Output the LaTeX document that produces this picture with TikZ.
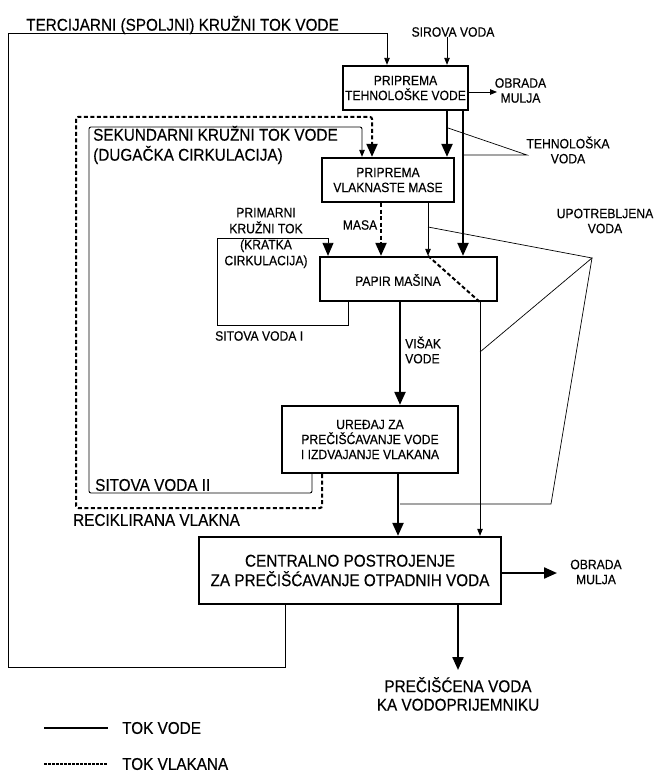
\documentclass[tikz,border=0pt]{standalone}
\usepackage{fontspec}
\setmainfont{Liberation Sans}[FakeStretch=0.9,FakeBold=0.3]
\usetikzlibrary{arrows.meta}
\begin{document}
\begin{tikzpicture}[x=1pt,y=-1pt,
  box/.style={draw, line width=2.3pt, inner sep=0pt, align=center, font=\fontsize{13.5}{15}\selectfont},
  lbl/.style={inner sep=0pt, align=center, font=\fontsize{13.5}{15}\selectfont},
  biglbl/.style={inner sep=0pt, align=center, font=\fontsize{17}{19.5}\selectfont},
  thinline/.style={line width=0.9pt},
  thickline/.style={line width=2.2pt},
  fibre/.style={line width=2pt, dash pattern=on 4pt off 2.5pt},
  leader/.style={line width=0.7pt},
  bighead/.style={-{Triangle[length=13pt,width=11pt]}},
  smallhead/.style={-{Triangle[length=7pt,width=5.5pt]}},
  ]
\fill[white] (0,0) rectangle (657,775);
\useasboundingbox (0,0) rectangle (657,775);

% boxes
\node[box, minimum width=125, minimum height=44] (ptv) at (405.5,88) {PRIPREMA\\TEHNOLOŠKE VODE};
\node[box, minimum width=132, minimum height=44] (vlak) at (388,180) {PRIPREMA\\VLAKNASTE MASE};
\node[box, minimum width=177, minimum height=44] (papir) at (408.5,279) {};
\node[lbl] (papirtxt) at (398,280) {PAPIR MAŠINA};
\node[box, minimum width=176, minimum height=67] (ured) at (370,439.5) {UREĐAJ ZA\\PREČIŠĆAVANJE VODE\\I IZDVAJANJE VLAKANA};
\node[box, minimum width=302, minimum height=67, font=\fontsize{17}{19.5}\selectfont] (central) at (350,570.5) {CENTRALNO POSTROJENJE\\ZA PREČIŠĆAVANJE OTPADNIH VODA};

% labels
\node[biglbl, anchor=west] (terc) at (26,25) {TERCIJARNI (SPOLJNI) KRUŽNI TOK VODE};
\node[lbl] (sirova) at (453,32) {SIROVA VODA};
\node[lbl] (obrada1) at (520.5,90.5) {OBRADA\\MULJA};
\node[lbl] (tehno) at (568,150) {TEHNOLOŠKA\\VODA};
\node[biglbl, anchor=west, align=left, font=\fontsize{17}{20}\selectfont] (sekund) at (93,145) {SEKUNDARNI KRUŽNI TOK VODE\\(DUGAČKA CIRKULACIJA)};
\node[lbl] (upotr) at (605,221) {UPOTREBLJENA\\VODA};
\node[lbl, font=\fontsize{13.5}{16}\selectfont] (primar) at (266,238) {PRIMARNI\\KRUŽNI TOK\\(KRATKA\\CIRKULACIJA)};
\node[lbl] (masa) at (360,225) {MASA};
\node[lbl, anchor=west] (sitova1) at (215,336) {SITOVA VODA I};
\node[lbl, anchor=west, align=left] (visak) at (405,350) {VIŠAK\\VODE};
\node[biglbl, anchor=west] (sitova2) at (95,485) {SITOVA VODA II};
\node[biglbl, anchor=west] (recikl) at (73,520) {RECIKLIRANA VLAKNA};
\node[lbl] (obrada2) at (596,572) {OBRADA\\MULJA};
\node[biglbl, font=\fontsize{17}{18.5}\selectfont] (precis) at (458,694) {PREČIŠĆENA VODA\\KA VODOPRIJEMNIKU};
\node[biglbl, anchor=west] (legw) at (122,728) {TOK VODE};
\node[biglbl, anchor=west] (legf) at (122,764) {TOK VLAKANA};

% coordinates
\coordinate (xs) at (447,0);
\coordinate (xa) at (447,0);
\coordinate (xb) at (463,0);
\coordinate (xc) at (428,0);
\coordinate (xm) at (381,0);
\coordinate (xd) at (480,0);
\coordinate (xv) at (400,0);
\coordinate (xu) at (398,0);
\coordinate (xp) at (458,0);
\coordinate (tA) at (285,667);
\coordinate (tB) at (8,667);
\coordinate (tC) at (8,33);
\coordinate (tD) at (387,33);
\coordinate (sA) at (312,493);
\coordinate (sB) at (89,493);
\coordinate (sC) at (89,127);
\coordinate (sD) at (362,127);
\coordinate (fA) at (322,508);
\coordinate (fB) at (76,508);
\coordinate (fC) at (76,117);
\coordinate (fD) at (372,117);
\coordinate (pA) at (348,325);
\coordinate (pB) at (217,325);
\coordinate (pC) at (217,238);
\coordinate (pD) at (328,238);
\coordinate (ob1) at (497,92);
\coordinate (ob2) at (557,573);
\coordinate (pend) at (458,670);
\coordinate (T) at (527,155);
\coordinate (T1) at (448,128);
\coordinate (T2) at (463,155);
\coordinate (U) at (592,258);
\coordinate (U1) at (428,227);
\coordinate (U2) at (480,352);
\coordinate (U3) at (551,504);
\coordinate (U4) at (400,504);
\coordinate (L1) at (44,728);
\coordinate (L2) at (108,728);
\coordinate (L3) at (44,764);
\coordinate (L4) at (108,764);

% tertiary loop
\draw[thinline, smallhead] (central.south -| tA) -- (tA) -- (tB) -- (tC) -- (tD) -- (ptv.north -| tD);
% raw water
\draw[thinline, smallhead] (sirova.south -| xs) -- (ptv.north -| xs);
% sludge top
\draw[thinline, smallhead] (ptv.east |- ob1) -- (ob1);
% fibre loop
\draw[fibre, bighead, rounded corners=2pt] (ured.south -| fA) -- (fA) -- (fB) -- (fC) -- (fD) -- (vlak.north -| fD);
% secondary loop
\draw[thinline, smallhead, rounded corners=2pt] (ured.south -| sA) -- (sA) -- (sB) -- (sC) -- (sD) -- (vlak.north -| sD);
% process water
\draw[thickline, bighead] (ptv.south -| xa) -- (vlak.north -| xa);
\draw[thickline, bighead] (ptv.south -| xb) -- (papir.north -| xb);
% pulp to paper machine
\draw[thinline, smallhead] (vlak.south -| xc) -- (papir.north -| xc);
\draw[fibre, bighead] (vlak.south -| xm) -- (papir.north -| xm);
\draw[fibre] (papir.north -| xc) -- (papir.south -| xd);
% used water
\draw[thinline, smallhead] (papir.south -| xd) -- (central.north -| xd);
\draw[thickline, bighead] (papir.south -| xv) -- (ured.north -| xv);
% primary loop
\draw[thinline, bighead] (papir.south -| pA) -- (pA) -- (pB) -- (pC) -- (pD) -- (papir.north -| pD);
% to central plant
\draw[thickline, bighead] (ured.south -| xu) -- (central.north -| xu);
\draw[thickline, bighead] (central.east |- ob2) -- (ob2);
\draw[thickline, bighead] (central.south -| xp) -- (pend);
% leaders
\draw[leader] (T1) -- (T) -- (T2);
\draw[leader] (U1) -- (U) -- (U2);
\draw[leader] (U) -- (U3) -- (U4);
% legend
\draw[line width=1.4pt] (L1) -- (L2);
\draw[line width=1.4pt, dash pattern=on 2.5pt off 1.5pt] (L3) -- (L4);
\end{tikzpicture}
\end{document}
